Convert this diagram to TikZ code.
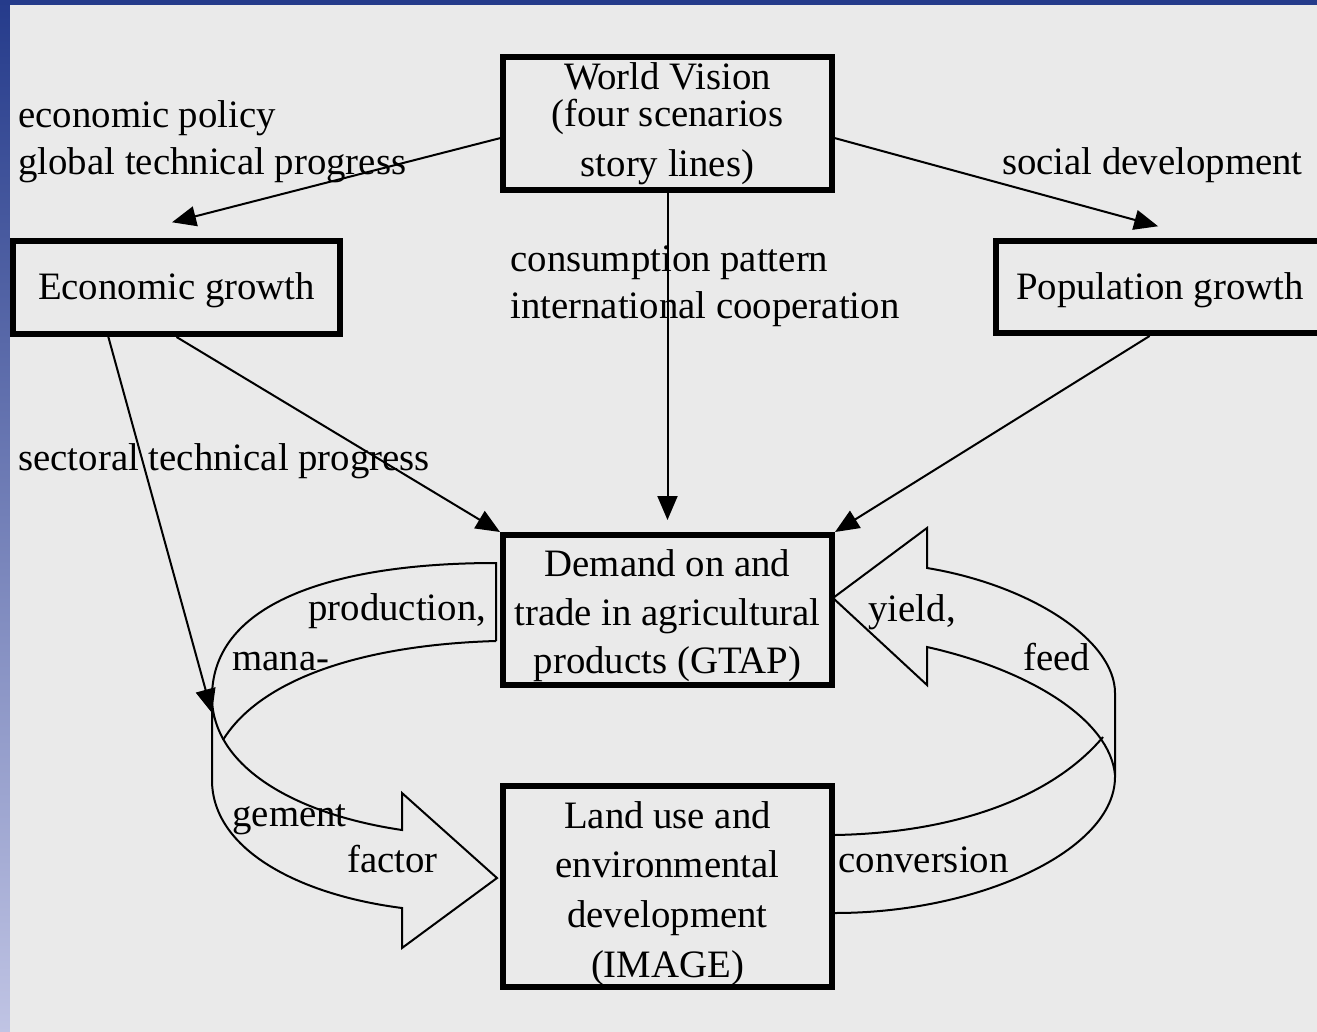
\documentclass[tikz,border=0pt]{standalone}
\usepackage{fontspec}
\setmainfont{Liberation Serif}
\usetikzlibrary{arrows.meta}
\definecolor{slideblue}{RGB}{37,59,139}
\definecolor{slidemid}{RGB}{76,94,161}
\definecolor{slidelight}{RGB}{192,196,228}
\definecolor{slidegray}{RGB}{234,234,234}
\newcommand{\topstrut}[1]{\rule{0pt}{#1}}
\tikzset{
  box/.style={draw, line width=3pt, inner sep=0pt, align=center, minimum width=164.5pt},
  txt/.style={inner sep=0pt, anchor=base west},
  flow/.style={-{Triangle[length=12pt,width=10pt]}, line width=1pt},
  band/.style={line width=1pt, line join=miter},
}
\begin{document}
\begin{tikzpicture}[x=0.5pt, y=-0.5pt, font=\fontsize{19.4pt}{24.2pt}\selectfont]
    \useasboundingbox (0,0) rectangle (1317,1032);
    % Slide background
    \shade[top color=slideblue, middle color=slidemid, bottom color=slidelight] (0,0) rectangle (1317,1032);
    \fill[slideblue] (0,0) rectangle (1317,5);
    \fill[slidegray] (10,5) rectangle (1317,1032);

    % Labels on the links
    \node[txt] (policy) at (18,128) {economic policy};
    \node[txt] (globtech) at (18,175) {global technical progress};
    \node[txt, anchor=base east] (social) at (1303,175) {social development};
    \node[txt] (consump) at (510,271) {consumption pattern};
    \node[txt] (intcoop) at (510,319) {international cooperation};
    \node[txt] (sectech) at (18,470) {sectoral technical progress};
    \node[txt] (prod) at (308,620) {production,};
    \node[txt] (mana) at (232,670) {mana-};
    \node[txt] (gement) at (232,826) {gement};
    \node[txt] (factor) at (347,872) {factor};
    \node[txt] (yield) at (868,621) {yield,};
    \node[txt] (feed) at (1023,670) {feed};
    \node[txt] (conv) at (838,872) {conversion};

    % Boxes
    \node[box, minimum height=66.5pt] (wv) at (667.5,123.5)
        {World Vision\\[-5.5pt](four scenarios\\[0.5pt]story lines)};
    \node[box, minimum width=163.5pt, minimum height=46.5pt] (econ) at (176.5,287.5)
        {\topstrut{16.3pt}Economic growth};
    \node[box, minimum width=164pt, minimum height=46pt] (pop) at (1160,287)
        {\topstrut{16.3pt}Population growth};
    \node[box, minimum height=75pt] (demand) at (667.5,610)
        {\topstrut{19.3pt}Demand on and\\trade in agricultural\\products (GTAP)};
    \node[box, minimum height=100.5pt] (land) at (667.5,886.5)
        {\topstrut{20.3pt}Land use and\\[0.6pt]environmental\\[0.6pt]development\\[0.6pt](IMAGE)};
    \coordinate (mgmt) at (212,713);

    % Driving forces
    \draw[flow, shorten >=31.6pt] (wv.185) -- (econ.143);
    \draw[flow, shorten >=22.3pt] (wv.355) -- (pop.50);
    \draw[flow, shorten >=6pt] (wv.south) -- (demand.north);
    \draw[flow] (econ.south) -- (demand.north west);
    \draw[flow] (pop.258) -- (demand.north east);
    \draw[flow] (econ.216) -- (mgmt);

    % Loop arrows between GTAP and IMAGE
    \draw[band] (496,641) -- (496,563) .. controls (340,563) and (212,600) .. (212,697)
        -- (212,780) .. controls (212,850) and (300,895) .. (402,908)
        -- (402,948) -- (497,878) -- (402,793) -- (402,830)
        .. controls (300,815) and (215,770) .. (212,700);
    \draw[band] (496,641) .. controls (360,645) and (260,680) .. (223,740);
    \draw[band] (835,913) .. controls (980,913) and (1115,850) .. (1115,777)
        -- (1115,693) .. controls (1115,640) and (1030,585) .. (927,568)
        -- (927,528) -- (833,598) -- (927,685) -- (927,647)
        .. controls (1030,670) and (1110,720) .. (1115,775);
    \draw[band] (835,835) .. controls (950,833) and (1050,800) .. (1103,737);
\end{tikzpicture}
\end{document}
